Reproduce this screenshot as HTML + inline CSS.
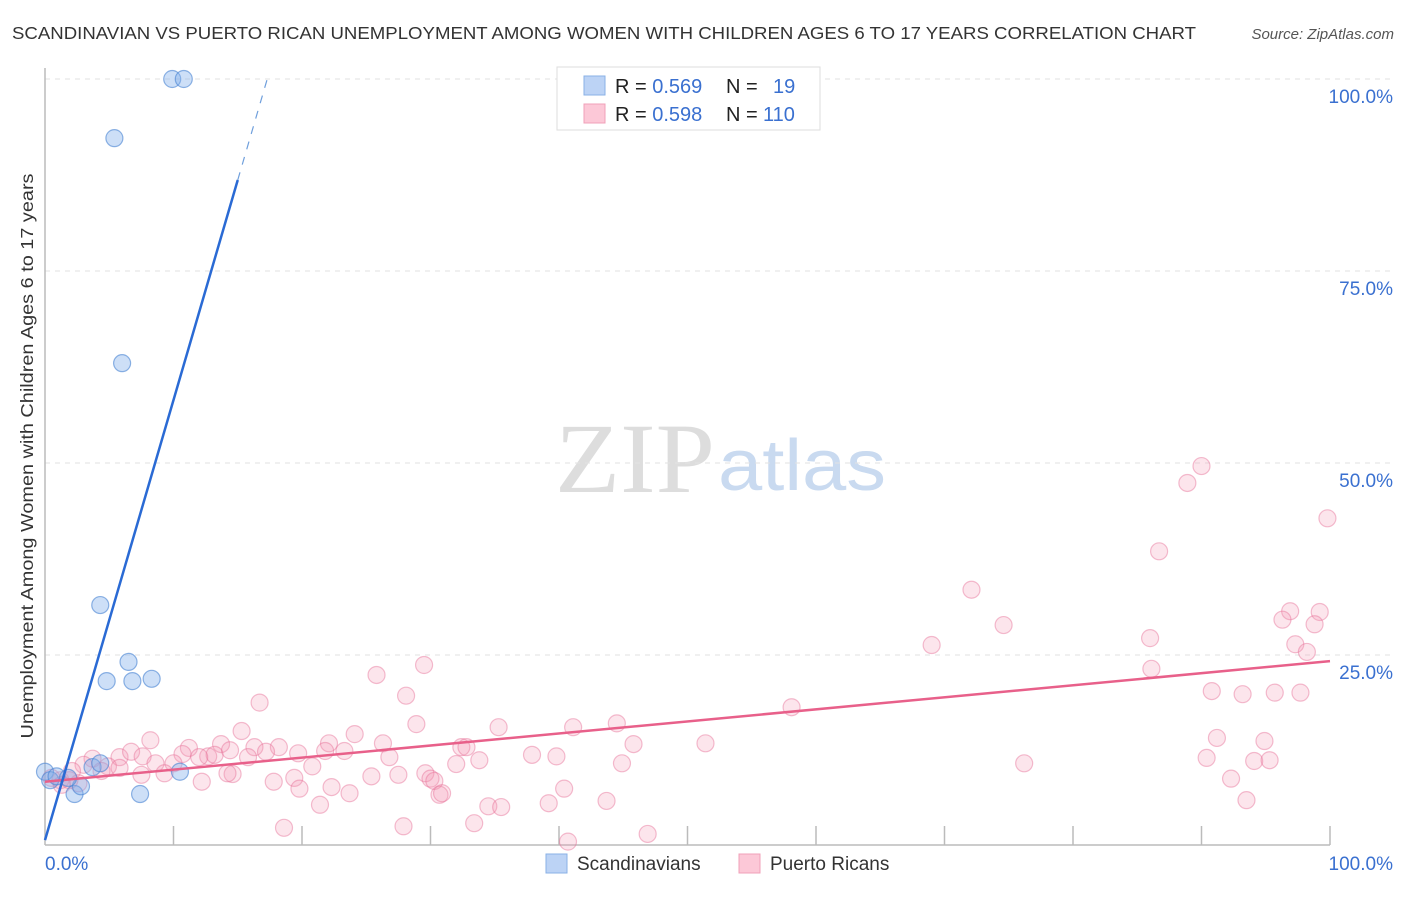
<!DOCTYPE html>
<html><head><meta charset="utf-8"><style>
body{margin:0;background:#fff;font-family:"Liberation Sans",sans-serif;}
svg text{font-family:"Liberation Sans",sans-serif;}
</style></head><body>
<svg id="c" width="1406" height="892" viewBox="0 0 1406 892">
<text x="12" y="39" font-size="17.5" fill="#333" textLength="1184" lengthAdjust="spacingAndGlyphs">SCANDINAVIAN VS PUERTO RICAN UNEMPLOYMENT AMONG WOMEN WITH CHILDREN AGES 6 TO 17 YEARS CORRELATION CHART</text>
<text x="1394" y="39" font-size="15" fill="#555" text-anchor="end" font-style="italic">Source: ZipAtlas.com</text>
<text x="555" y="492" font-size="100" fill="#ddd" textLength="160" lengthAdjust="spacingAndGlyphs" font-family="Liberation Serif" style="font-family:'Liberation Serif',serif">ZIP</text>
<text x="718" y="490" font-size="72" fill="#c9daf0" textLength="168" lengthAdjust="spacingAndGlyphs">atlas</text>
<g id="grid"></g>
<g id="axes"></g>
<g id="pts"></g>
<g id="lines"></g>
<text transform="translate(33,456) rotate(-90)" font-size="17.5" fill="#333" text-anchor="middle" textLength="565" lengthAdjust="spacingAndGlyphs">Unemployment Among Women with Children Ages 6 to 17 years</text>
<text x="45" y="870" font-size="19" fill="#3a70d0">0.0%</text>
<text x="1393" y="870" font-size="19" fill="#3a70d0" text-anchor="end">100.0%</text>
<g>
<rect x="557" y="67" width="263" height="63" fill="#fff" stroke="#ddd"/>
<rect x="584" y="76" width="21" height="19" fill="#bcd3f5" stroke="#8ab0e6"/>
<rect x="584" y="104" width="21" height="19" fill="#fcc8d7" stroke="#f0a0b8"/>
<text x="615" y="93" font-size="20" fill="#222">R = <tspan fill="#3a70d0">0.569</tspan><tspan x="726">N = </tspan><tspan x="773" fill="#3a70d0">19</tspan></text>
<text x="615" y="121" font-size="20" fill="#222">R = <tspan fill="#3a70d0">0.598</tspan><tspan x="726">N = </tspan><tspan x="763" fill="#3a70d0">110</tspan></text>
</g>
<g>
<rect x="546" y="854" width="21" height="19" fill="#bcd3f5" stroke="#8ab0e6"/>
<text x="577" y="870" font-size="19" fill="#333">Scandinavians</text>
<rect x="739" y="854" width="21" height="19" fill="#fcc8d7" stroke="#f0a0b8"/>
<text x="770" y="870" font-size="19" fill="#333">Puerto Ricans</text>
</g>
</svg>
<script>
const yTicks=[25,50,75,100];
const yTickLabels=["25.0%","50.0%","75.0%","100.0%"];
const xTicks=[10,20,30,40,50,60,70,80,90,100];
const bluePx=[[172,79],[184,79],[115,138],[122,363],[100,605],[128,662],[107,681],[133,681],[152,679],[45,772],[50,780],[75,794],[81,786],[92,767],[100,763],[140,794],[180,772],[57,776],[68,778]];
const pinkPx=[[1201,466],[1188,483],[1327,518],[1159,551],[972,590],[1003,625],[1290,611],[1320,612],[1282,620],[1315,624],[1150,638],[932,645],[1295,644],[1307,652],[1152,669],[376,675],[424,665],[406,696],[260,703],[1212,691],[1242,694],[1275,693],[1301,693],[792,707],[242,731],[416,724],[498,727],[573,727],[617,723],[355,734],[151,740],[221,744],[329,743],[383,743],[461,747],[466,747],[189,748],[255,747],[279,747],[634,744],[705,743],[1217,738],[1264,741],[119,757],[92,759],[131,752],[143,756],[183,754],[208,756],[214,755],[230,750],[266,752],[298,753],[325,751],[344,751],[390,757],[532,755],[556,756],[479,760],[1206,758],[1254,761],[1270,760],[84,765],[108,766],[120,768],[156,763],[174,763],[199,757],[248,757],[312,766],[456,764],[622,763],[1024,763],[72,771],[101,771],[141,775],[165,773],[233,774],[228,773],[294,778],[372,776],[398,775],[426,773],[430,779],[60,780],[78,783],[202,782],[274,782],[300,789],[332,787],[434,781],[1231,779],[350,793],[564,789],[440,795],[320,805],[488,806],[501,807],[549,803],[606,801],[1247,800],[442,793],[474,823],[284,828],[403,826],[648,834],[568,842],[52,778],[62,785],[70,780]];
const blueX=bluePx.map(p=>+((p[0]-45)/12.85).toFixed(1));
const blueY=bluePx.map(p=>+((847-p[1])/7.68).toFixed(1));
const pinkX=pinkPx.map(p=>+((p[0]-45)/12.85).toFixed(1));
const pinkY=pinkPx.map(p=>+((847-p[1])/7.68).toFixed(1));
const blueLine=[0.9,5.73];
const pinkLine=[8.5,0.157];
const X=v=>45+v*12.85, Y=v=>847-v*7.68;
const NS="http://www.w3.org/2000/svg";
function mk(tag,attrs,parent){const e=document.createElementNS(NS,tag);for(const k in attrs)e.setAttribute(k,attrs[k]);document.getElementById(parent).appendChild(e);return e;}
yTicks.forEach((t,i)=>{
 const g=mk('line',{x1:45,x2:1394,y1:Y(t),y2:Y(t),stroke:'#e2e2e2','stroke-dasharray':'5,5'},'grid');
 
 
 const l=mk('text',{x:1393,y:Y(t)+24,'font-size':19,fill:'#3a70d0','text-anchor':'end'},'grid');
 l.textContent=yTickLabels[i];
 
 
});
const ax=mk('line',{x1:45,x2:1330,y1:845,y2:845,stroke:'#bbb','stroke-width':1.5},'axes');


const ay=mk('line',{x1:45,x2:45,y1:68,y2:845,stroke:'#bbb','stroke-width':1.5},'axes');


xTicks.forEach(t=>{const e=mk('line',{x1:X(t),x2:X(t),y1:826,y2:845,stroke:'#bbb','stroke-width':1.5},'axes');
 
 });
pinkX.forEach((x,i)=>{const c=mk('circle',{cx:X(x),cy:Y(pinkY[i]),r:8.5,fill:'rgba(244,150,180,0.25)',stroke:'rgba(230,110,150,0.45)','stroke-width':1.2},'pts');
 
 });
blueX.forEach((x,i)=>{const c=mk('circle',{cx:X(x),cy:Y(blueY[i]),r:8.5,fill:'rgba(130,175,235,0.4)',stroke:'rgba(70,130,210,0.6)','stroke-width':1.2},'pts');
 
 });
const pl=mk('line',{x1:X(0),y1:Y(pinkLine[0]),x2:X(100),y2:Y(pinkLine[0]+pinkLine[1]*100),stroke:'#e8608a','stroke-width':2.5},'lines');


const xs=15, xe=(100-blueLine[0])/blueLine[1];
const bl=mk('line',{x1:X(0),y1:Y(blueLine[0]),x2:X(xs),y2:Y(blueLine[0]+blueLine[1]*xs),stroke:'#2a6ad4','stroke-width':2.5},'lines');


const bd=mk('line',{x1:X(xs),y1:Y(blueLine[0]+blueLine[1]*xs),x2:X(xe),y2:Y(100),stroke:'#6f9fdc','stroke-width':1.2,'stroke-dasharray':'8,8'},'lines');


</script>
</body></html>
